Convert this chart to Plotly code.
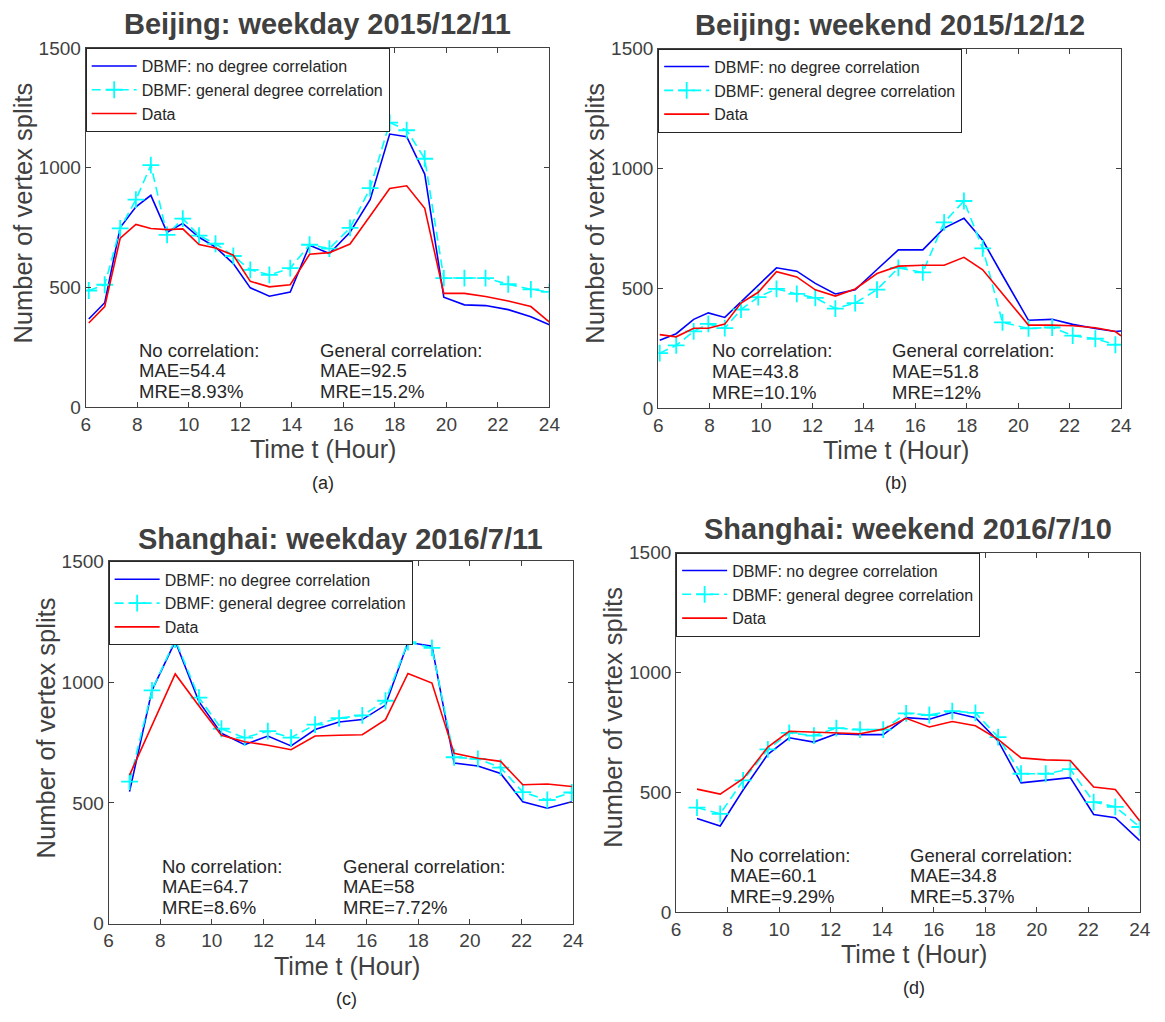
import plotly.graph_objects as go

# ---------------- data ----------------
hours_a = [6.12, 6.74, 7.34, 7.95, 8.53, 9.16, 9.77, 10.4, 11.04, 11.73, 12.39, 13.13, 13.94,
           14.69, 15.46, 16.26, 17.04, 17.8, 18.46, 19.16, 19.9, 20.7, 21.52, 22.4, 23.28, 24.0]
nodeg_a = [369, 437, 751, 837, 885, 731, 768, 710, 669, 600, 499, 464, 481,
           677, 642, 731, 867, 1141, 1130, 974, 460, 428, 425, 408, 378, 345]
gen_a = [488, 512, 747, 867, 1011, 720, 788, 717, 683, 632, 574, 553, 581,
         679, 663, 749, 915, 1189, 1157, 1038, 540, 540, 540, 514, 493, 482]
data_a = [352, 421, 706, 764, 747, 742, 745, 680, 665, 635, 526, 503, 512,
          639, 646, 682, 799, 914, 925, 831, 476, 476, 463, 444, 421, 356]

hours_b = [6.06, 6.70, 7.38, 7.95, 8.59, 9.22, 9.89, 10.6, 11.39, 12.11, 12.89, 13.66, 14.51,
           15.34, 16.29, 17.12, 17.89, 18.62, 19.39, 20.4, 21.32, 22.12, 23.0, 23.78, 24.0]
nodeg_b = [283, 310, 370, 397, 378, 442, 512, 585, 571, 520, 476, 493, 578,
           660, 660, 751, 792, 700, 554, 366, 370, 349, 332, 319, 321]
gen_b = [229, 261, 320, 351, 333, 411, 463, 497, 476, 460, 415, 438, 494,
         585, 566, 775, 864, 666, 357, 332, 336, 302, 289, 264]
data_b = [306, 297, 333, 333, 350, 438, 483, 569, 547, 493, 467, 497, 561,
          592, 596, 596, 629, 577, 477, 346, 346, 343, 335, 319, 301]

hours_c = [6.81, 7.68, 8.58, 9.5, 10.37, 11.27, 12.17, 13.07, 14.0, 14.93, 15.83, 16.73,
           17.6, 18.53, 19.39, 20.31, 21.19, 22.05, 23.0, 23.95]
nodeg_c = [547, 966, 1169, 919, 788, 741, 777, 736, 804, 835, 845, 905,
           1165, 1149, 665, 653, 622, 505, 478, 505]
gen_c = [588, 966, 1176, 936, 807, 770, 797, 770, 824, 851, 862, 923,
         1166, 1142, 689, 682, 646, 545, 512, 543]
data_c = [615, 822, 1034, 901, 780, 753, 739, 720, 777, 780, 782, 845,
          1036, 996, 705, 685, 672, 575, 578, 568]

hours_d = [6.81, 7.71, 8.6, 9.56, 10.39, 11.35, 12.22, 13.14, 14.04, 14.93, 15.83, 16.72,
           17.62, 18.5, 19.39, 20.35, 21.3, 22.21, 23.05, 24.0]
nodeg_d = [391, 360, 510, 659, 728, 710, 745, 741, 741, 812, 805, 834,
           812, 715, 540, 551, 562, 408, 395, 299]
gen_d = [437, 411, 550, 680, 748, 737, 768, 762, 762, 830, 823, 839,
         832, 731, 578, 578, 597, 460, 440, 356]
data_d = [514, 493, 557, 689, 755, 752, 751, 745, 764, 809, 773, 796,
          778, 721, 644, 636, 633, 523, 512, 381]

titles = ["Beijing: weekday 2015/12/11", "Beijing: weekend 2015/12/12",
          "Shanghai: weekday 2016/7/11", "Shanghai: weekend 2016/7/10"]
panel_tags = ["(a)", "(b)", "(c)", "(d)"]
mae_none = ["54.4", "43.8", "64.7", "60.1"]
mre_none = ["8.93%", "10.1%", "8.6%", "9.29%"]
mae_general = ["92.5", "51.8", "58", "34.8"]
mre_general = ["15.2%", "12%", "7.72%", "5.37%"]
series_names = ["DBMF: no degree correlation", "DBMF: general degree correlation", "Data"]
x_ticks = [6, 8, 10, 12, 14, 16, 18, 20, 22, 24]
y_ticks = [0, 500, 1000, 1500]

# ---------------- layout helpers ----------------
W, H = 1149, 1004
OFF = 8  # default body margin of the page


def fx(sx):
    return (sx - OFF) / W


def fy(sy):
    return 1 - (sy - OFF) / H


# plot-area boxes in screen pixels: left, right, top, bottom
boxes = [(81.7, 552.0, 38.7, 405.7), (662.3, 1131.7, 39.3, 406.3),
         (105.0, 576.0, 563.0, 933.0), (680.5, 1150.7, 554.0, 921.5)]
title_y = [14, 15, 540, 530]

FONT = "Liberation Sans, Arial, Helvetica, sans-serif"
GRAY = "#404040"
TXT = "#262626"

panels = [
    (hours_a, nodeg_a, gen_a, data_a),
    (hours_b, nodeg_b, gen_b, data_b),
    (hours_c, nodeg_c, gen_c, data_c),
    (hours_d, nodeg_d, gen_d, data_d),
]

fig = go.Figure()
annotations = []
layout = dict(width=W, height=H, autosize=False, margin=dict(l=0, r=0, t=0, b=0),
              paper_bgcolor="white", plot_bgcolor="white", font=dict(family=FONT))

for i, (hrs, nd, gd, dd) in enumerate(panels):
    n = "" if i == 0 else str(i + 1)
    xa, ya = "x" + n, "y" + n
    lg = "legend" + n
    fig.add_trace(go.Scatter(x=hrs, y=nd, mode="lines", name=series_names[0],
                             line=dict(color="#0000ff", width=1.6),
                             xaxis=xa, yaxis=ya, legend=lg))
    fig.add_trace(go.Scatter(x=hrs[:len(gd)], y=gd, mode="lines+markers", name=series_names[1],
                             line=dict(color="#00ffff", width=1.6, dash="9px,5px"),
                             marker=dict(symbol="cross-thin", size=12,
                                         line=dict(color="#00ffff", width=1.8)),
                             xaxis=xa, yaxis=ya, legend=lg))
    fig.add_trace(go.Scatter(x=hrs, y=dd, mode="lines", name=series_names[2],
                             line=dict(color="#ff0000", width=1.6),
                             xaxis=xa, yaxis=ya, legend=lg))

    l, r, t, b = boxes[i]
    axis_common = dict(showline=True, linecolor=GRAY, linewidth=1, mirror="ticks",
                       ticks="inside", ticklen=5, tickcolor=GRAY, showgrid=False,
                       zeroline=False, tickfont=dict(size=19, color=GRAY, family=FONT))
    layout["xaxis" + n] = dict(domain=[fx(l), fx(r)], range=[6, 24], tickvals=x_ticks,
                               anchor=ya, **axis_common)
    layout["yaxis" + n] = dict(domain=[fy(b), fy(t)], range=[0, 1500], tickvals=y_ticks,
                               anchor=xa, **axis_common)
    layout[lg] = dict(x=fx(l), y=fy(t), xanchor="left", yanchor="top", bgcolor="white",
                      bordercolor=TXT, borderwidth=1, itemwidth=45, tracegroupgap=0,
                      font=dict(size=16, color=TXT, family=FONT))

    cx = (l + r) / 2
    cy = (t + b) / 2
    annotations.append(dict(text="<b>" + titles[i] + "</b>", x=fx(cx), y=fy(title_y[i]),
                            xref="paper", yref="paper", showarrow=False, xanchor="center",
                            yanchor="middle", font=dict(size=29, color=GRAY, family=FONT)))
    annotations.append(dict(text="Number of vertex splits", x=fx(l - 64), y=fy(cy - 15),
                            xref="paper", yref="paper", showarrow=False, textangle=-90,
                            xanchor="center", yanchor="middle",
                            font=dict(size=25.5, color=GRAY, family=FONT)))
    annotations.append(dict(text="Time t (Hour)", x=fx(cx + 6), y=fy(b + 43),
                            xref="paper", yref="paper", showarrow=False,
                            xanchor="center", yanchor="middle",
                            font=dict(size=25, color=GRAY, family=FONT)))
    annotations.append(dict(text=panel_tags[i], x=fx(cx + 6), y=fy(b + 77),
                            xref="paper", yref="paper", showarrow=False,
                            xanchor="center", yanchor="middle",
                            font=dict(size=18, color=TXT, family=FONT)))
    blocks = [(8, ["No correlation:", "MAE=" + mae_none[i], "MRE=" + mre_none[i]]),
              (15, ["General correlation:", "MAE=" + mae_general[i], "MRE=" + mre_general[i]])]
    for x0, lines in blocks:
        for k, line in enumerate(lines):
            annotations.append(dict(text=line, x=x0, y=238 - 86 * k, xref=xa, yref=ya,
                                    showarrow=False, xanchor="left", yanchor="middle",
                                    font=dict(size=18.5, color=TXT, family=FONT)))

layout["annotations"] = annotations
fig.update_layout(**layout)
fig.write_html("out.html")
